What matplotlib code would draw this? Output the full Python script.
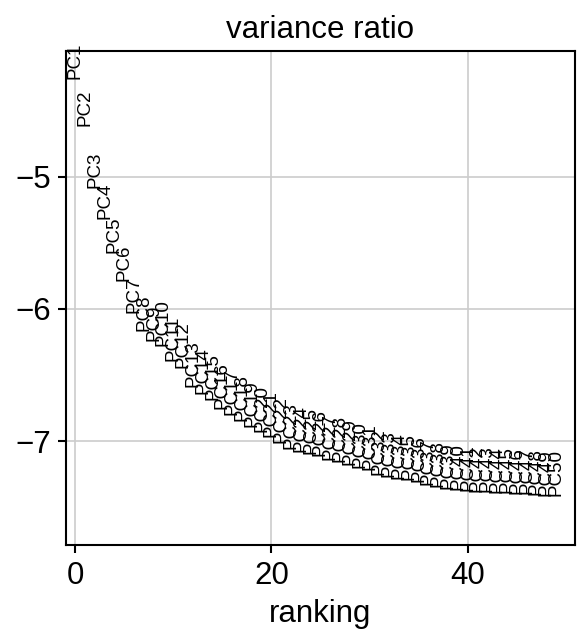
import numpy as np
from matplotlib import pyplot as plt

plt.rcParams['font.family'] = ['Liberation Sans', 'DejaVu Sans']

# log of variance ratio per principal component
log_ratio = [-4.265, -4.62, -5.09, -5.32, -5.58, -5.79, -6.03, -6.17, -6.24, -6.28,
             -6.39, -6.45, -6.59, -6.64, -6.69, -6.76, -6.80, -6.85, -6.89, -6.93,
             -6.965, -7.015, -7.055, -7.08, -7.095, -7.11, -7.14, -7.16, -7.18, -7.20,
             -7.22, -7.255, -7.27, -7.285, -7.295, -7.31, -7.33, -7.345, -7.358, -7.368,
             -7.374, -7.38, -7.385, -7.39, -7.394, -7.398, -7.402, -7.406, -7.41, -7.413]
labels = ['PC%d' % (k + 1) for k in range(len(log_ratio))]

fig = plt.figure(figsize=(588/150, 643/150), dpi=150)
ax = fig.add_axes([0.1128, 0.1524, 0.9772 - 0.1128, 0.9207 - 0.1524])

for ig, val in enumerate(log_ratio):
    ax.text(ig, val, labels[ig], rotation='vertical', verticalalignment='bottom',
            horizontalalignment='center', fontsize=9)

smin, smax = min(log_ratio), max(log_ratio)
ax.set_ylim(1.05*smin, 0.95*smax)
ax.set_xlim(-0.9, len(log_ratio) + 1 - 0.1)
ax.set_xticks([0, 20, 40])
ax.set_yticks([-7, -6, -5])
ax.grid(True, color='#cccccc', linewidth=0.8)
ax.set_axisbelow(True)
ax.tick_params(labelsize=15, width=1.0, length=4)
for s in ax.spines.values():
    s.set_linewidth(1.0)
ax.set_xlabel('ranking', fontsize=15)
ax.set_title('variance ratio', fontsize=15)

fig.savefig('out.png', dpi=150)
